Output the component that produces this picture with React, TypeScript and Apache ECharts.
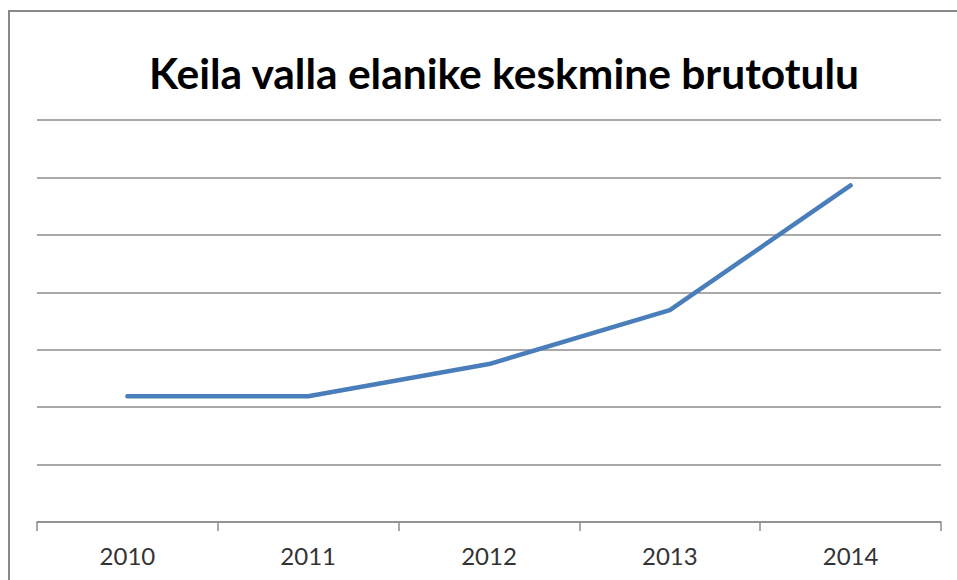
import React, { useEffect, useRef } from "react";
import * as echarts from "echarts";

const titleText = "Keila valla elanike keskmine brutotulu";
const years = ["2010", "2011", "2012", "2013", "2014"];
const income = [2.19, 2.19, 2.75, 3.69, 5.86];

export default function App() {
  const ref = useRef<HTMLDivElement>(null);
  useEffect(() => {
    if (!ref.current) return;
    const chart = echarts.init(ref.current, null, { renderer: "svg" });
    chart.setOption({
      animation: false,
      backgroundColor: "#ffffff",
      graphic: [
        {
          type: "rect",
          shape: { x: 9, y: 11, width: 1100, height: 1000 },
          style: { fill: "none", stroke: "#888888", lineWidth: 2 },
          z: 0,
        },
        {
          type: "text",
          x: 504,
          y: 72,
          style: {
            text: titleText,
            fontFamily: "Lato",
            fontWeight: "bold",
            fontSize: 42.5,
            fill: "#000000",
            textAlign: "center",
            textVerticalAlign: "middle",
          },
        },
      ],
      grid: { left: 37, right: 16, top: 120, bottom: 58, containLabel: false },
      xAxis: {
        type: "category",
        data: years,
        boundaryGap: true,
        axisLine: { lineStyle: { color: "#8c8c8c", width: 1.5 } },
        axisTick: { show: true, length: 9, lineStyle: { color: "#8c8c8c", width: 1.5 } },
        axisLabel: {
          color: "#333333",
          fontFamily: "Lato",
          fontSize: 24,
          margin: 21,
        },
      },
      yAxis: {
        type: "value",
        min: 0,
        max: 7,
        interval: 1,
        axisLabel: { show: false },
        axisLine: { show: false },
        axisTick: { show: false },
        splitLine: { lineStyle: { color: "#8c8c8c", width: 1.5 } },
      },
      series: [
        {
          type: "line",
          data: income,
          symbol: "none",
          lineStyle: { color: "#4a7ebb", width: 4.5, cap: "round", join: "round" },
        },
      ],
    });
    return () => chart.dispose();
  }, []);
  return (
    <div
      ref={ref}
      style={{ position: "fixed", left: 0, top: 0, width: 957, height: 580 }}
    />
  );
}
